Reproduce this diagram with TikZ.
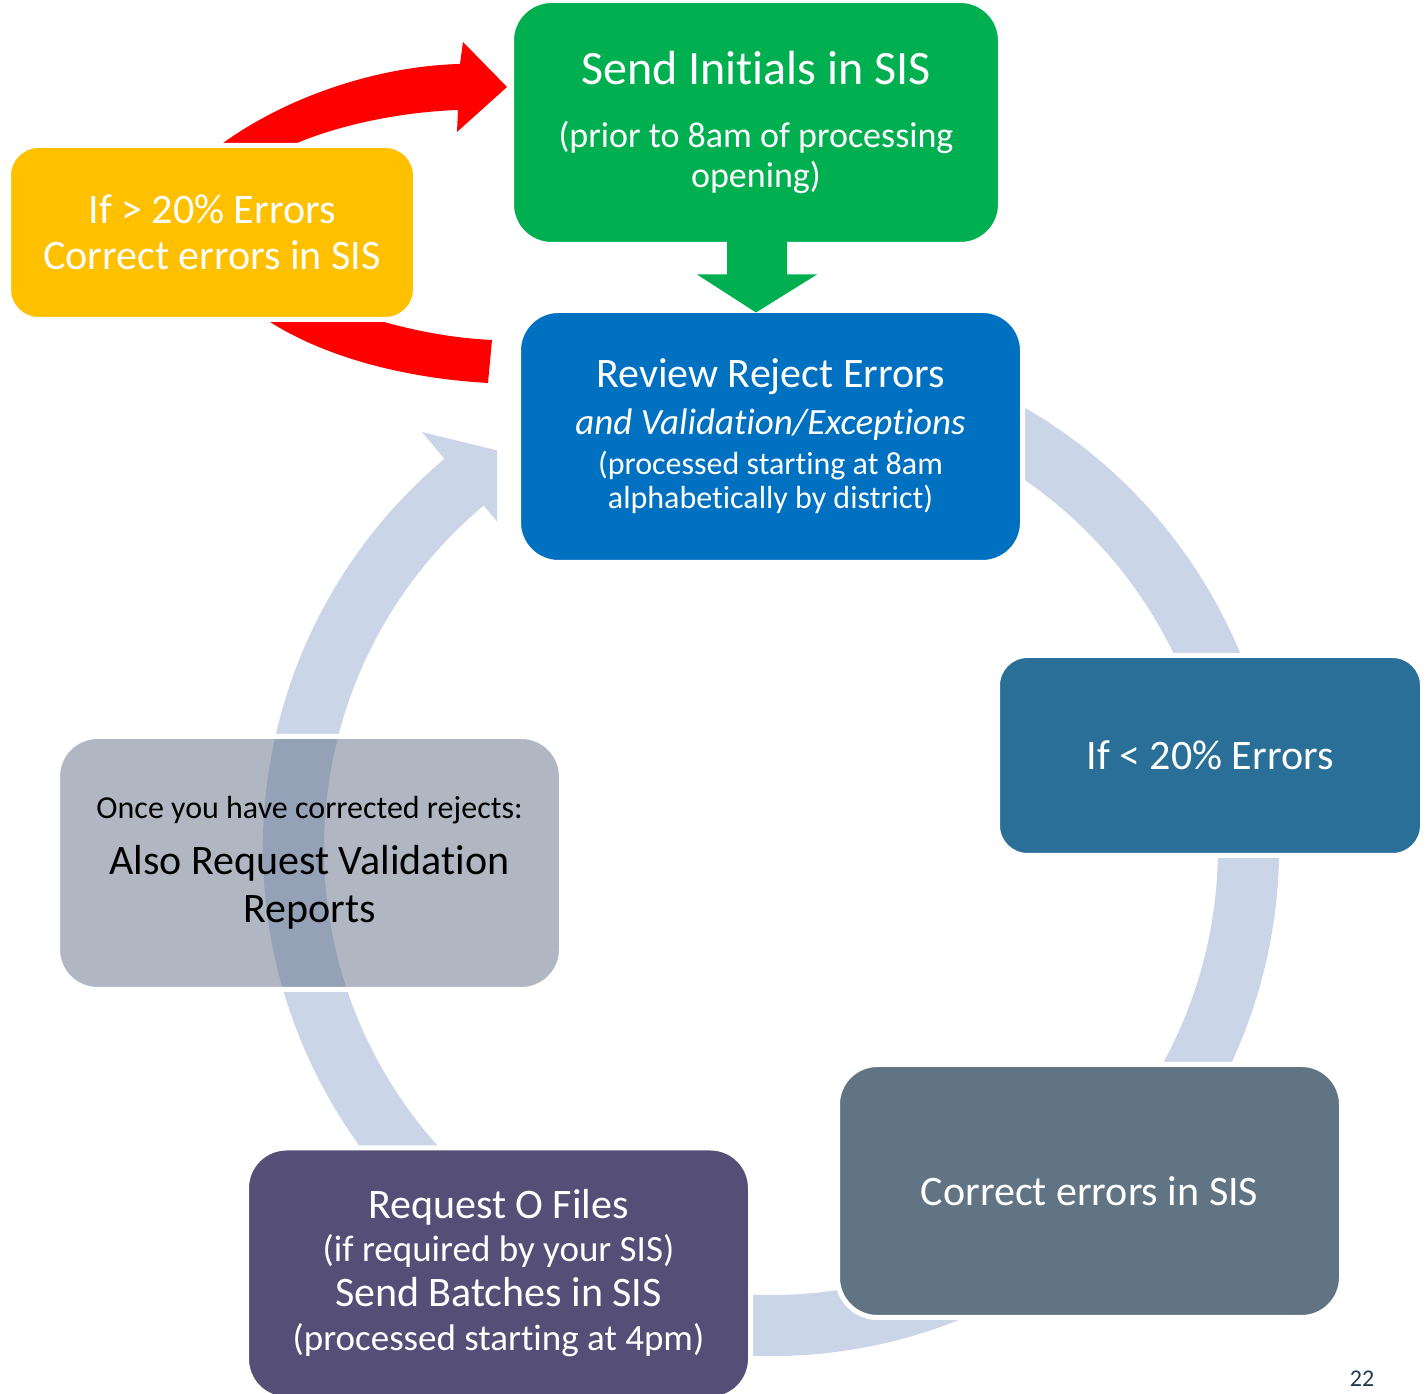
\documentclass[tikz,border=0pt]{standalone}
\usepackage{fontspec}
\setmainfont{Carlito}[Ligatures={NoCommon}]
\usetikzlibrary{calc}
\definecolor{cgreen}{HTML}{00B050}
\definecolor{cblue}{HTML}{0070C0}
\definecolor{cyellow}{HTML}{FFC000}
\definecolor{cred}{HTML}{FF0000}
\definecolor{cteal}{HTML}{296F97}
\definecolor{cslate}{HTML}{617483}
\definecolor{cpurple}{HTML}{554F77}
\definecolor{cgray}{HTML}{616F85}
\definecolor{cring}{HTML}{CBD5E8}
\definecolor{cnum}{HTML}{1F3B4D}
\newcommand{\fs}[1]{\fontsize{#1}{0}\selectfont\lineskiplimit=-1000pt\relax}
\begin{document}
\begin{tikzpicture}[x=1pt,y=1pt,
  box/.style={draw=white, line width=5pt, rounded corners=#1, align=center,
    text=white, inner sep=0pt},
  box/.default=40pt,
  ringarrow/.style={fill=cring},
  redarrow/.style={fill=cred},
  greenarrow/.style={fill=cgreen}]
\useasboundingbox (0,0) rectangle (1427,1394);

% cycle ring (behind boxes)
\coordinate (ringc) at (771,546);
\begin{scope}
  \clip (0,0) rectangle (497,1394) (1023,0) rectangle (1427,1394) (0,0) rectangle (1427,824);
  \fill[ringarrow, shift={(ringc)}] (75:508) arc[start angle=75, end angle=-230, radius=508]
    -- (-230:543) -- (-236:477.5) -- (-230:412) -- (-230:447)
    arc[start angle=-230, end angle=75, radius=447] -- cycle;
\end{scope}

% red loop arrow
\fill[redarrow] (488,1011) .. controls (400,1016) and (320,1039) .. (267,1074)
  -- (223,1251) .. controls (290,1299) and (380,1328) .. (460,1330)
  -- (463,1352) -- (507,1307) -- (457,1262) -- (458,1284)
  .. controls (400,1282) and (340,1269) .. (297,1251)
  -- (370,1076) .. controls (410,1064) and (450,1056) .. (492,1054) -- cycle;

% boxes
\node[box, fill=cblue, minimum width=504pt, minimum height=252pt, font=\fs{32}]
  (review) at (770.5,957.5)
  {{\fs{42}Review Reject Errors}\\[47pt]
   {\fs{37}\itshape and Validation/Exceptions}\\[40pt]
   (processed starting at 8am\\[34pt]
   alphabetically by district)\\[6pt]\mbox{}};

\node[box=30pt, fill=cteal, minimum width=425pt, minimum height=200pt, font=\fs{42}]
  (low) at (1210,638.5) {If < 20\% Errors};

\node[box, fill=cslate, minimum width=504pt, minimum height=253pt, font=\fs{42}]
  (correct) at (1089.5,203) {Correct errors in SIS};

\node[box, fill=cpurple, minimum width=504pt, minimum height=251pt, font=\fs{37}]
  (batch) at (498.5,120.5)
  {{\fs{42}Request O Files}\\[43pt]
   (if required by your SIS)\\[45pt]
   {\fs{42}Send Batches in SIS}\\[44pt]
   (processed starting at 4pm)};

\node[box, fill=cgray, fill opacity=0.5, draw opacity=1, text opacity=1, text=black,
  minimum width=504pt, minimum height=253pt, font=\fs{42}]
  (valid) at (309.5,531)
  {{\fs{32}Once you have corrected rejects:}\\[56pt]
   Also Request Validation\\[48pt]
   Reports};

\node[box=30pt, fill=cyellow, minimum width=407pt, minimum height=174pt, font=\fs{42}]
  (high) at (212,1161.5)
  {If > 20\% Errors\\[46pt] Correct errors in SIS};

\node[box, fill=cgreen, minimum width=489pt, minimum height=244pt, font=\fs{36}]
  (send) at (756,1271.5)
  {{\fs{48}Send Initials in SIS}\\[63pt]
   (prior to 8am of processing\\[40pt]
   opening)};

% green arrow send -> review
\fill[greenarrow] ([shift={(-29pt,10pt)}]send.south) -- ([shift={(-29pt,-27.5pt)}]send.south)
  -- ([shift={(-59pt,-27.5pt)}]send.south) -- ([shift={(0pt,-65.5pt)}]send.south)
  -- ([shift={(61pt,-27.5pt)}]send.south) -- ([shift={(31pt,-27.5pt)}]send.south)
  -- ([shift={(31pt,10pt)}]send.south) -- cycle;

% slide number
\node[font=\fs{24}, text=cnum, anchor=south, inner sep=0pt] (num) at (1362,7) {22};
\end{tikzpicture}
\end{document}
